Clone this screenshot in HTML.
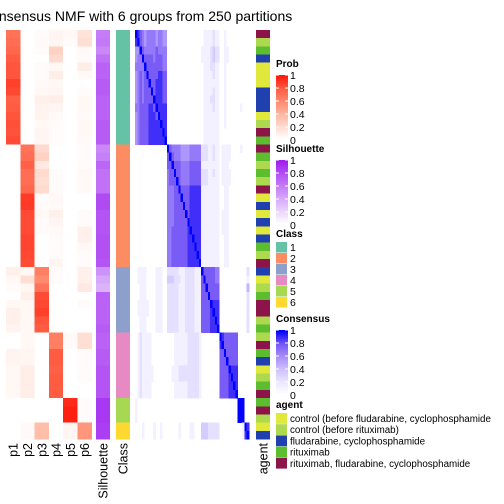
<!DOCTYPE html>
<html><head><meta charset="utf-8"><style>
html,body{margin:0;padding:0;background:#fff;}
svg{display:block;font-family:"Liberation Sans",sans-serif;}
</style></head><body>
<svg id="chart" width="504" height="504" viewBox="0 0 504 504" xmlns="http://www.w3.org/2000/svg">
<text x="-19" y="21" font-size="14" fill="#000">Consensus NMF with 6 groups from 250 partitions</text>
<g id="hm" shape-rendering="crispEdges"></g>
<g id="labels"></g>
<g id="legends"></g>
</svg>
<script>
const classes=[1,1,1,1,1,1,1,1,1,1,1,1,1,1, 2,2,2,2,2,2,2,2,2,2,2,2,2,2,2, 3,3,3,3,3,3,3,3, 4,4,4,4,4,4,4,4, 5,5,5, 6,6];
const agents=["M","L","G","B","Y","Y","Y","B","B","B","Y","L","M","G","M","G","L","G","L","M","Y","B","Y","B","Y","B","G","L","M","B","Y","L","G","M","M","L","G","L","M","G","B","Y","L","G","M","G","M","L","Y","B"];
const prob=[
[0.7,0,0.02,0.05,0.04,0.15],[0.72,0,0.03,0.05,0.02,0.18],[0.75,0,0.02,0.25,0,0.03],[0.8,0,0,0.2,0,0.02],
[0.82,0,0.02,0.04,0,0.1],[0.82,0,0.02,0.1,0,0.03],[0.88,0,0.03,0.04,0,0],[0.86,0,0.04,0.05,0,0.02],
[0.78,0,0.08,0.1,0,0.04],[0.8,0,0.06,0.05,0,0.04],[0.82,0,0.06,0.03,0,0.03],[0.84,0,0.04,0.02,0,0.04],
[0.83,0,0.05,0.02,0,0.04],[0.85,0,0.05,0.02,0,0.03],
[0,0.7,0.2,0,0,0.02],[0,0.72,0.25,0,0,0.02],[0,0.78,0.12,0,0,0.02],[0,0.72,0.2,0.02,0,0.04],
[0,0.72,0.18,0.02,0,0.03],[0,0.75,0.2,0.02,0,0.03],[0,0.9,0.02,0.04,0,0],[0,0.9,0.02,0.03,0,0],
[0,0.85,0.04,0.08,0,0.02],[0,0.85,0.02,0.05,0,0.02],[0,0.85,0.02,0.03,0,0.08],[0,0.87,0,0.02,0,0.08],
[0,0.87,0,0.02,0,0.04],[0,0.86,0,0.02,0,0.02],[0,0.85,0,0.05,0,0.02],
[0.08,0.04,0.65,0.02,0,0.08],[0.04,0.18,0.6,0.02,0,0.08],[0.02,0.05,0.7,0,0,0.12],[0,0.08,0.85,0,0,0],
[0.04,0.04,0.86,0,0,0.02],[0.08,0.04,0.88,0,0,0],[0.08,0.04,0.82,0,0,0],[0.06,0.04,0.8,0,0,0],
[0,0.04,0,0.65,0.03,0.18],[0,0.04,0,0.65,0.02,0.18],[0.06,0.05,0,0.8,0,0.02],[0.06,0.05,0,0.8,0,0.02],
[0.04,0.1,0,0.78,0,0.02],[0.04,0.1,0,0.8,0,0.02],[0.04,0.1,0,0.8,0,0],[0.04,0.1,0,0.8,0,0],
[0,0,0,0,0.95,0.02],[0,0,0,0,0.98,0.02],[0,0,0,0,0.98,0.02],
[0,0.03,0.35,0,0.05,0.55],[0,0.03,0.35,0,0.05,0.55]];
const silhouette=[0.6,0.62,0.55,0.65,0.72,0.72,0.75,0.75,0.72,0.72,0.72,0.75,0.75,0.75,
0.55,0.58,0.7,0.65,0.65,0.65,0.82,0.82,0.78,0.78,0.78,0.8,0.8,0.8,0.78,
0.5,0.4,0.35,0.72,0.72,0.72,0.72,0.75,
0.72,0.72,0.75,0.75,0.78,0.78,0.78,0.78,
0.9,0.9,0.9,0.88,0.88];
const consensus=[
"98765666656655"+"000000000000000"+"01111211"+"00100000"+"000"+"00",
"89765666656655"+"000000000000000"+"01111211"+"00100000"+"000"+"00",
"55976666676666"+"000000000000000"+"11112322"+"00110000"+"000"+"00",
"56697777677766"+"000000000000000"+"11112322"+"00110000"+"000"+"00",
"66669777777766"+"000000000000000"+"01112211"+"00100000"+"000"+"00",
"56767977778877"+"000000000000000"+"01111211"+"00100000"+"000"+"00",
"56767797788877"+"000000000000000"+"01111111"+"00100000"+"000"+"00",
"56767779788877"+"000000000000000"+"01111211"+"00100000"+"000"+"00",
"56767777988877"+"000000000000000"+"01112211"+"00100000"+"000"+"00",
"66777788798888"+"000000000000000"+"01111211"+"00100000"+"010"+"00",
"56777788879888"+"000000000000000"+"01111111"+"00100000"+"000"+"00",
"56777788888988"+"000000000000000"+"01111111"+"00100000"+"000"+"00",
"56777788888898"+"000000000000000"+"01111111"+"00000000"+"000"+"00",
"56777788888889"+"000000000000000"+"01111111"+"00000000"+"000"+"00",
"00000000000000"+"976666555566666"+"22211211"+"01111000"+"010"+"00",
"00000000000000"+"797666555566666"+"22211211"+"01111000"+"000"+"00",
"00000000000000"+"779777666677777"+"11111111"+"01110000"+"000"+"00",
"00000000000000"+"677977666677777"+"22211211"+"01111000"+"000"+"00",
"00000000000000"+"677797666677777"+"22211111"+"01111000"+"000"+"00",
"00000000000000"+"666779777788888"+"11111111"+"00110000"+"000"+"00",
"00000000000000"+"666777977788888"+"11111111"+"00110000"+"000"+"00",
"00000000000000"+"666777797788888"+"11111111"+"00110000"+"000"+"00",
"00000000000000"+"666777779788888"+"11111111"+"01110000"+"000"+"00",
"00000000000000"+"666777777988888"+"11111111"+"01110000"+"000"+"00",
"00000000000000"+"667777777898888"+"11111111"+"01110000"+"000"+"00",
"00000000000000"+"667777777889888"+"11111111"+"00110000"+"000"+"00",
"00000000000000"+"667777777888988"+"11111111"+"00110000"+"000"+"00",
"00000000000000"+"667777777888898"+"11111111"+"00110000"+"000"+"00",
"00000000000000"+"667777777888889"+"11111111"+"00110000"+"000"+"00",
"01111000011100"+"222221112222111"+"97777766"+"00000000"+"000"+"02",
"01111000011100"+"333222112222111"+"79777766"+"00000000"+"000"+"01",
"00111000011100"+"222221112222111"+"77977777"+"00000000"+"000"+"04",
"00111000011100"+"222221112222111"+"77797777"+"00000000"+"000"+"02",
"01111100011100"+"222221112222111"+"77779888"+"00000000"+"000"+"02",
"01111100011100"+"222221112222111"+"77778988"+"00000000"+"000"+"02",
"00111000011100"+"222221112222111"+"77778898"+"00000000"+"000"+"02",
"00111000011100"+"222221112222111"+"77778889"+"00000000"+"000"+"02",
"01211110000000"+"000111111222221"+"00000000"+"98777777"+"000"+"00",
"01211110000000"+"000111111222221"+"00000000"+"89777777"+"000"+"00",
"01211110000000"+"000111111222221"+"00000000"+"77977777"+"000"+"00",
"01211110000000"+"000111111222221"+"00000000"+"77797777"+"000"+"00",
"01211111000000"+"001112222222221"+"00000000"+"77779888"+"000"+"00",
"01211111000000"+"001112222222221"+"00000000"+"77778988"+"000"+"00",
"01211110000000"+"000111111222221"+"00000000"+"77778898"+"000"+"00",
"01211110000000"+"000111111222221"+"00000000"+"77778889"+"000"+"00",
"10000000000000"+"000000000000000"+"00000000"+"00000000"+"999"+"00",
"10000000000000"+"000000000000000"+"00000000"+"00000000"+"999"+"00",
"10000000000000"+"000000000000000"+"00000000"+"00000000"+"999"+"00",
"00010000100100"+"000001000011000"+"33322222"+"00000000"+"001"+"98",
"00010000100100"+"000001000011000"+"33322222"+"00000000"+"001"+"89"];
const probLabels=["p1","p2","p3","p4","p5","p6"];
const legendTicks=["1","0.8","0.6","0.4","0.2","0"];
const classColors={1:"#66c2a5",2:"#fc8d62",3:"#8da0cb",4:"#e78ac3",5:"#a6d854",6:"#ffd92f"};
const agentColors={Y:"#dfe83b",L:"#acd94e",B:"#2140af",G:"#5cbe2e",M:"#8c1448"};
const agentNames=["control (before fludarabine, cyclophosphamide","control (before rituximab)","fludarabine, cyclophosphamide","rituximab","rituximab, fludarabine, cyclophosphamide"];
const agentKeys=["Y","L","B","G","M"];

const NS="http://www.w3.org/2000/svg";
const top0=30,bot0=439,N=classes.length,rh=(bot0-top0)/N;
function yOf(i){return top0+i*rh;}
function ramp(stops,v){v=Math.max(0,Math.min(1,v));const n=stops.length-1;const p=v*n;const k=Math.min(n-1,Math.floor(p));const f=p-k;const a=stops[k],b=stops[k+1];
  return `rgb(${Math.round(a[0]+(b[0]-a[0])*f)},${Math.round(a[1]+(b[1]-a[1])*f)},${Math.round(a[2]+(b[2]-a[2])*f)})`;}
const RED=[[255,255,255],[255,218,206],[255,180,158],[255,138,110],[255,92,66],[255,25,12]];
const PUR=[[255,255,255],[234,212,252],[214,168,250],[196,124,247],[178,80,244],[160,32,240]];
const BLU=[[255,255,255],[233,228,255],[205,190,255],[165,140,250],[115,85,245],[0,0,255]];
function rect(g,x,y,w,h,fill){const r=document.createElementNS(NS,"rect");r.setAttribute("x",x);r.setAttribute("y",y);r.setAttribute("width",w);r.setAttribute("height",h);r.setAttribute("fill",fill);g.appendChild(r);return r;}
function text(g,x,y,s,size,extra){const t=document.createElementNS(NS,"text");t.setAttribute("x",x);t.setAttribute("y",y);t.setAttribute("font-size",size);t.textContent=s;if(extra)for(const k in extra)t.setAttribute(k,extra[k]);g.appendChild(t);return t;}
const hm=document.getElementById("hm");
const pcx=[6,20.3,34.6,48.9,63.2,77.5],pw=14.3;
for(let i=0;i<N;i++){
  for(let j=0;j<6;j++){
    const r=rect(hm,pcx[j],yOf(i),pw+0.3,rh+0.3,ramp(RED,prob[i][j]));
    
    
  }
  const s=rect(hm,96,yOf(i),14,rh+0.3,ramp(PUR,silhouette[i]));
  
  
  const c=rect(hm,116,yOf(i),14,rh+0.3,classColors[classes[i]]);
  
  
  const a=rect(hm,256,yOf(i),14,rh+0.3,agentColors[agents[i]]);
  
  
  const cw=(249-135)/N;
  for(let j=0;j<N;j++){
    const v=parseInt(consensus[i][j])/9;
    if(v<=0)continue;
    const k=rect(hm,135+j*cw,yOf(i),cw+0.3,rh+0.3,ramp(BLU,v));
    
    
  }
}
const lab=document.getElementById("labels");
function vlabel(x,s,name){const t=text(lab,0,0,s,12.5,{transform:`translate(${x},443) rotate(-90)`,"text-anchor":"end"});}
probLabels.forEach((p,j)=>vlabel(pcx[j]+pw/2+4.5,p,'prob-label'));
vlabel(107.5,"Silhouette",'silhouette-label');
vlabel(127.5,"Class",'class-label');
vlabel(267.5,"agent",'agent-label');

const lg=document.getElementById("legends");
function gradLegend(title,y,col,name){
  const t=text(lg,276,y,title,10,{"font-weight":"bold"});
  
  
  const by=y+8,bh=65,steps=30;
  for(let s=0;s<steps;s++){const v=1-s/(steps-1);const r=rect(lg,276,by+s*bh/steps,12,bh/steps+0.4,ramp(col,v));}
  legendTicks.forEach((tk,k)=>{const ty=by+k*bh/5;const l=text(lg,290,ty+4,tk,10.5);
    const ln=document.createElementNS(NS,"line");ln.setAttribute("x1",276);ln.setAttribute("x2",279);ln.setAttribute("y1",ty);ln.setAttribute("y2",ty);ln.setAttribute("stroke","#fff");lg.appendChild(ln);
    const ln2=document.createElementNS(NS,"line");ln2.setAttribute("x1",285);ln2.setAttribute("x2",288);ln2.setAttribute("y1",ty);ln2.setAttribute("y2",ty);ln2.setAttribute("stroke","#fff");lg.appendChild(ln2);});
}
gradLegend("Prob",67,RED,'prob');
gradLegend("Silhouette",152,PUR,'silhouette');
gradLegend("Consensus",322,BLU,'consensus');
const ct=text(lg,276,237,"Class",10,{"font-weight":"bold"});


[1,2,3,4,5,6].forEach((c,k)=>{const y=242+k*11;const r=rect(lg,276,y,11,10.5,classColors[c]);
  const l=text(lg,290,y+9,String(c),10.5);});
const at=text(lg,276,408,"agent",10,{"font-weight":"bold"});


agentKeys.forEach((a,k)=>{const y=413+k*11.2;const r=rect(lg,276,y,11,10.8,agentColors[a]);
  const l=text(lg,290,y+9,agentNames[k],9.8);});
</script>
</body></html>
